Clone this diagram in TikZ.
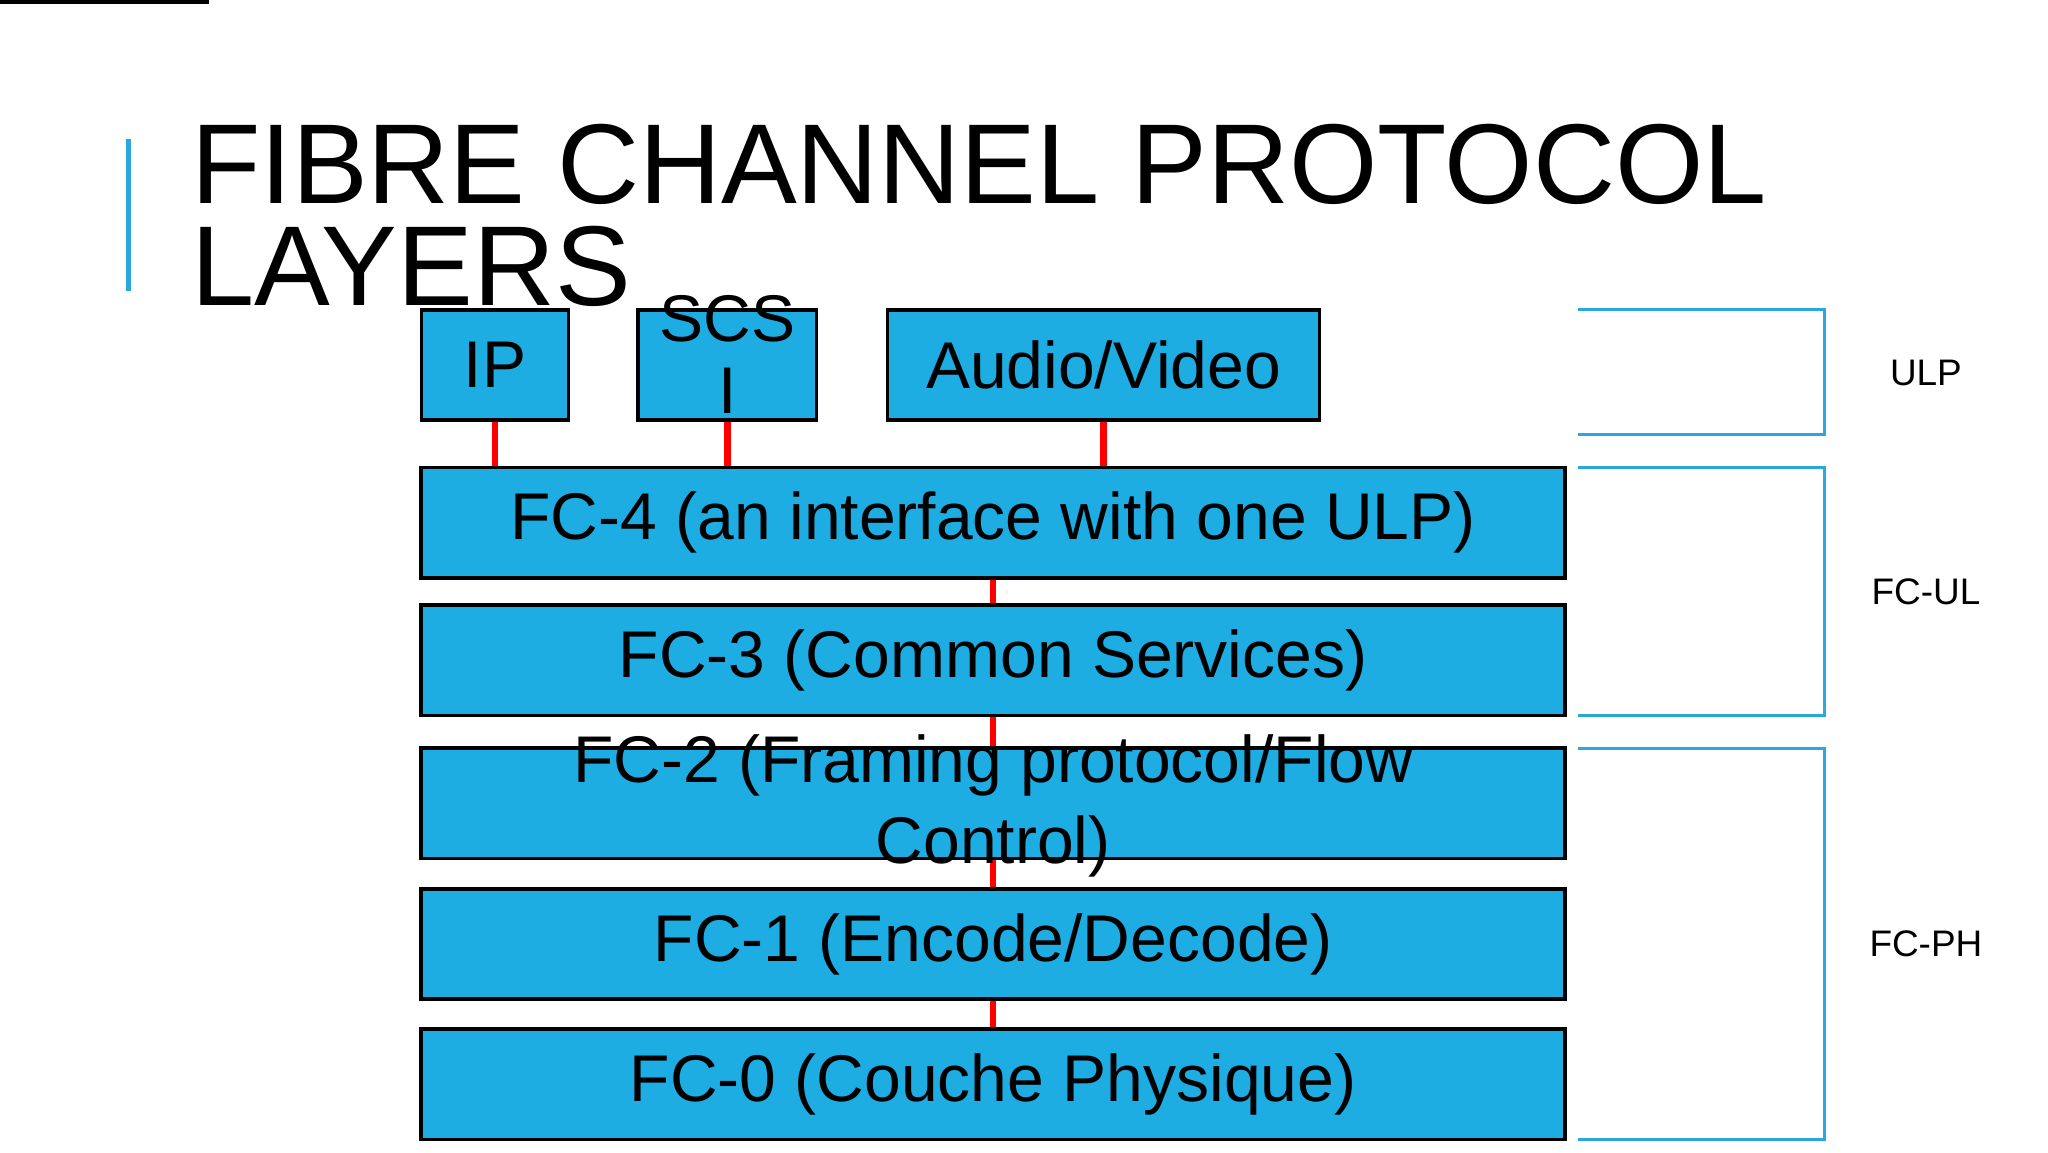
\documentclass[tikz,border=0pt]{standalone}
\usepackage{fontspec}
\setmainfont{Liberation Sans}
\definecolor{boxblue}{HTML}{1DADE2}
\definecolor{brk}{HTML}{2AA7DF}
\begin{document}
\begin{tikzpicture}[x=0.01cm,y=-0.01cm,
  layer/.style={draw=black,line width=0.8pt,fill=boxblue,inner sep=0pt,font=\fontsize{14.3}{15.5}\selectfont,align=center},
  link/.style={red,line width=1.4pt},
  brack/.style={brk,line width=0.6pt},
  lbl/.style={font=\fontsize{8}{9}\selectfont}]
\useasboundingbox (0,0) rectangle (1560,877.5);
\fill[white] (0,0) rectangle (1560,877.5);
\draw[brk,line width=1pt] (98,106) -- (98,222);
\node[anchor=base west,inner sep=0pt,font=\fontsize{24.6}{26}\selectfont] (t1) at (145,155) {FIBRE CHANNEL PROTOCOL};
\node[anchor=base west,inner sep=0pt,font=\fontsize{24.6}{26}\selectfont] (t2) at (145,233) {LAYERS};
% brackets
\draw[brack] (1202,236) -- (1390,236) -- (1390,331) -- (1202,331);
\draw[brack] (1202,356) -- (1390,356) -- (1390,545) -- (1202,545);
\draw[brack] (1202,570) -- (1390,570) -- (1390,868) -- (1202,868);
\node[lbl] (ulp) at (1467,284) {ULP};
\node[lbl] (ful) at (1467,451) {FC-UL};
\node[lbl] (fph) at (1467,719) {FC-PH};
% boxes
\node[layer,minimum width=112\pgflinewidth] at (0,0) {}; 
\node[layer,minimum width=1.12cm,minimum height=0.84cm] (ip) at (377,278) {IP};
\node[layer,minimum width=1.36cm,minimum height=0.84cm] (scsi) at (554,278) {};
\node[font=\fontsize{14.3}{15.5}\selectfont,align=center,inner sep=0pt] (scsit) at (554,270) {SCS\\I};
\node[layer,minimum width=3.29cm,minimum height=0.84cm] (av) at (840.5,278) {Audio/Video};
\node[layer,minimum width=8.71cm,minimum height=0.84cm] (fc4) at (756.5,398) {FC-4 (an interface with one ULP)};
\node[layer,minimum width=8.71cm,minimum height=0.84cm] (fc3) at (756.5,503) {FC-3 (Common Services)};
\node[layer,minimum width=8.71cm,minimum height=0.84cm] (fc2) at (756.5,612) {};
\node[layer,minimum width=8.71cm,minimum height=0.84cm] (fc1) at (756.5,719) {FC-1 (Encode/Decode)};
\node[layer,minimum width=8.71cm,minimum height=0.84cm] (fc0) at (756.5,826) {FC-0 (Couche Physique)};
% links
\draw[link] (ip.south) -- (ip.south |- fc4.north);
\draw[link] (scsi.south) -- (scsi.south |- fc4.north);
\draw[link] (av.south) -- (av.south |- fc4.north);
\draw[link] (fc4.south) -- (fc3.north);
\draw[link] (fc3.south) -- (fc2.north);
\draw[link] (fc2.south) -- (fc1.north);
\draw[link] (fc1.south) -- (fc0.north);
\node[font=\fontsize{14.3}{17.5}\selectfont,align=center,inner sep=0pt] (fc2t) at (756.5,614) {FC-2 (Framing protocol/Flow\\Control)};
\end{tikzpicture}
\end{document}
